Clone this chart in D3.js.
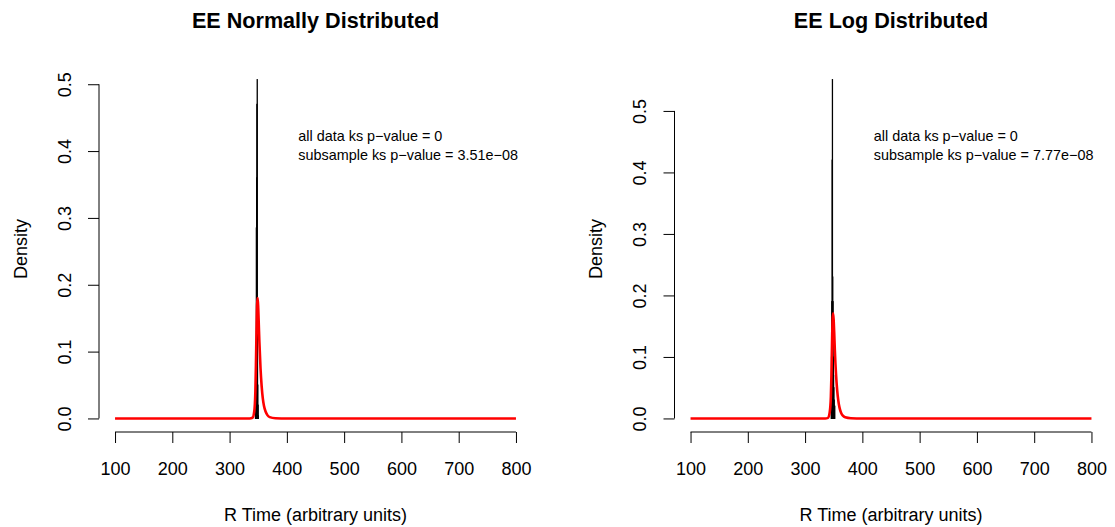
<!DOCTYPE html>
<html><head><meta charset="utf-8">
<script src="https://cdn.jsdelivr.net/npm/d3@7"></script>
<style>body{margin:0;background:#fff}svg{display:block}text{font-family:"Liberation Sans",Arial,Helvetica,sans-serif;fill:#000}</style>
</head><body><svg id="c" width="1115" height="527"></svg>
<script>
// ---- data ----
const panelTitles = ["EE Normally Distributed", "EE Log Distributed"];
const xTicks = [100, 200, 300, 400, 500, 600, 700, 800];
const yTicks = [0.0, 0.1, 0.2, 0.3, 0.4, 0.5];
const xLabel = "R Time (arbitrary units)";
const yLabel = "Density";
const annotLeft = ["all data ks p\u2212value = 0", "subsample ks p\u2212value = 3.51e\u221208"];
const annotRight = ["all data ks p\u2212value = 0", "subsample ks p\u2212value = 7.77e\u221208"];
const binWidth = 0.5;
// histogram bins (left edges) and densities
const histLeftStart = [345,345.5,346,346.5,347,347.5,348,348.5,349,349.5,350];
const histLeftDens  = [0.004,0.02,0.1,0.285,0.36,0.47,0.507,0.18,0.05,0.02,0.004];
const histRightStart = [345.5,346,346.5,347,347.5,348,348.5,349,349.5,350,350.5,351,351.5];
const histRightDens  = [0.03,0.1,0.19,0.42,0.551,0.23,0.19,0.1,0.07,0.05,0.03,0.02,0.02];
// fitted density curves (red)
const curveX = [100,335,340,343,345,346,347,348,349,350,351,352,354,356,358,360,363,366,370,380,400,800];
const curveLeftY  = [0,0,0.001,0.01,0.04,0.08,0.13,0.17,0.18,0.165,0.14,0.115,0.075,0.048,0.03,0.019,0.01,0.005,0.002,0.0003,0,0];
const curveRightY = [0,0,0.001,0.01,0.035,0.07,0.12,0.16,0.171,0.158,0.135,0.11,0.072,0.046,0.029,0.018,0.009,0.0045,0.0018,0.0003,0,0];

const svg = d3.select("#c");
const panels = [
  {x0: 99, title: panelTitles[0], hs: histLeftStart, hd: histLeftDens, cy: curveLeftY, ann: annotLeft},
  {x0: 674.5, title: panelTitles[1], hs: histRightStart, hd: histRightDens, cy: curveRightY, ann: annotRight}
];
const PW = 433, plotTop = 66, plotBottom = 432;
const FONT = "Liberation Sans, Arial, sans-serif";

panels.forEach(p => {
  const g = svg.append("g");
  const xr = [xTicks[0], xTicks[xTicks.length-1]];
  const xs = d3.scaleLinear().domain([xr[0]-0.04*(xr[1]-xr[0]), xr[1]+0.04*(xr[1]-xr[0])]).range([p.x0, p.x0+PW]);
  const ymax = d3.max(p.hd.concat(p.cy));
  const ys = d3.scaleLinear().domain([-0.04*ymax, 1.04*ymax]).range([plotBottom, plotTop]);

  // histogram
  g.selectAll("rect.h").data(p.hs.map((s,i)=>({s, d:p.hd[i]}))).enter().append("rect")
    .attr("x", d=>xs(d.s)).attr("width", d=>xs(d.s+binWidth)-xs(d.s))
    .attr("y", d=>ys(d.d)).attr("height", d=>ys(0)-ys(d.d))
    .attr("fill","#000").attr("stroke","#000").attr("stroke-width",1);

  // density curve
  const line = d3.line().x((d,i)=>xs(curveX[i])).y(d=>ys(d)).curve(d3.curveMonotoneX);
  g.append("path").attr("d", line(p.cy)).attr("fill","none").attr("stroke","#ff0000").attr("stroke-width",2.6);

  // x axis
  const xa = g.append("g").attr("transform",`translate(0,${plotBottom})`)
    .call(d3.axisBottom(xs).tickValues(xTicks).tickSize(11).tickFormat(d3.format("d")));
  xa.select(".domain").remove();
  xa.append("line").attr("x1",xs(xTicks[0])).attr("x2",xs(xTicks[xTicks.length-1])).attr("stroke","#000");
  xa.selectAll(".tick text").attr("font-size","18px").attr("font-family",FONT).attr("fill","#000").attr("dy",null).attr("y",42.5);
  xa.selectAll("line").attr("stroke","#000");

  // y axis
  const ya = g.append("g").attr("transform",`translate(${p.x0},0)`)
    .call(d3.axisLeft(ys).tickValues(yTicks).tickSize(11).tickFormat(d3.format(".1f")));
  ya.select(".domain").remove();
  ya.append("line").attr("y1",ys(yTicks[0])).attr("y2",ys(yTicks[yTicks.length-1])).attr("stroke","#000");
  ya.selectAll(".tick text").attr("font-size","18px").attr("font-family",FONT).attr("fill","#000")
    .attr("x",null).attr("dy",null).attr("text-anchor","middle")
    .attr("transform","translate(-28.5,0) rotate(-90)");
  ya.selectAll("line").attr("stroke","#000");

  // titles & labels
  g.append("text").attr("x", p.x0+PW/2).attr("y", 28).attr("text-anchor","middle")
    .attr("font-size","21.6px").attr("font-weight","bold").text(p.title);
  g.append("text").attr("x", xs((xr[0]+xr[1])/2)).attr("y", 521).attr("text-anchor","middle")
    .attr("font-size","18px").text(xLabel);
  g.append("text").attr("transform",`translate(${p.x0-72.5},${(plotTop+plotBottom)/2}) rotate(-90)`).attr("text-anchor","middle")
    .attr("font-size","18px").text(yLabel);

  // annotations
  p.ann.forEach((t,i)=>{
    g.append("text").attr("x", xs(420)).attr("y", 141+19*i).attr("font-size","14.4px").text(t);
  });
});
</script></body></html>
